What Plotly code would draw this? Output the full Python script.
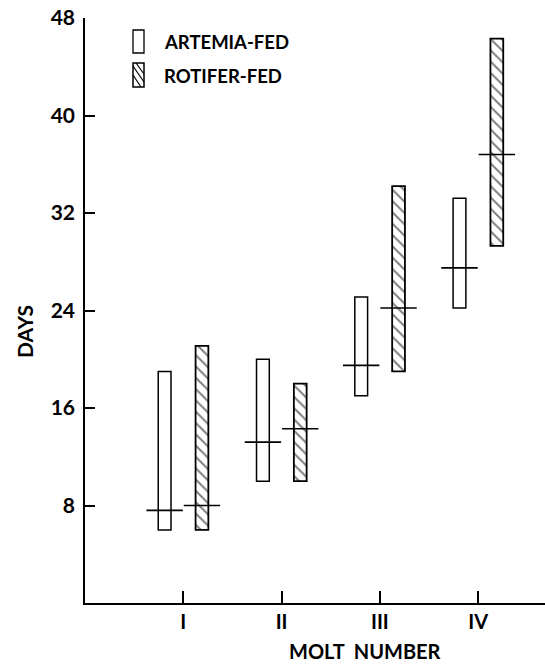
import plotly.graph_objects as go

molt = [1, 2, 3, 4]
molt_labels = ["I", "II", "III", "IV"]

art_low = [6.0, 10.0, 17.0, 24.2]
art_high = [19.0, 20.0, 25.1, 33.2]
art_med = [7.6, 13.2, 19.5, 27.5]

rot_low = [6.0, 10.0, 19.0, 29.3]
rot_high = [21.1, 18.0, 34.2, 46.3]
rot_med = [8.0, 14.3, 24.2, 36.8]

y_ticks = [8, 16, 24, 32, 40, 48]

FONT = "Lato"
shift = 0.19
bw = 0.13

x_art = [m - shift for m in molt]
x_rot = [m + shift for m in molt]

fig = go.Figure()
fig.add_trace(go.Bar(
    x=x_art, y=[h - l for h, l in zip(art_high, art_low)], base=art_low,
    width=bw, marker=dict(color="white", line=dict(color="black", width=1.5)),
    showlegend=False, hoverinfo="skip"))
fig.add_trace(go.Bar(
    x=x_rot, y=[h - l for h, l in zip(rot_high, rot_low)], base=rot_low,
    width=bw, marker=dict(color="white", line=dict(color="black", width=1.8),
                          pattern=dict(shape="\\", fgcolor="black", bgcolor="white",
                                       size=8, solidity=0.25)),
    showlegend=False, hoverinfo="skip"))
fig.add_trace(go.Scatter(
    x=x_art, y=art_med, mode="markers",
    marker=dict(symbol="line-ew", size=26, line=dict(color="black", width=1.6)),
    showlegend=False, hoverinfo="skip"))
fig.add_trace(go.Scatter(
    x=x_rot, y=rot_med, mode="markers",
    marker=dict(symbol="line-ew", size=26, line=dict(color="black", width=1.6)),
    showlegend=False, hoverinfo="skip"))

fig.update_layout(
    width=545, height=664,
    margin=dict(l=85, r=0, t=18, b=61),
    plot_bgcolor="white", paper_bgcolor="white",
    barmode="overlay",
    font=dict(family=FONT, size=21, color="black", weight=700),
    xaxis=dict(range=[0, 4.68], tickvals=molt, ticktext=molt_labels,
               ticks="inside", ticklen=12, tickwidth=1.5, tickcolor="black",
               showline=True, linecolor="black", linewidth=1.5,
               showgrid=False, zeroline=False, ticklabelstandoff=0,
               tickfont=dict(family=FONT, size=20, weight=700)),
    yaxis=dict(range=[0, 48], tickvals=y_ticks,
               ticks="inside", ticklen=10, tickwidth=1.5, tickcolor="black",
               showline=True, linecolor="black", linewidth=1.5,
               showgrid=False, zeroline=False, ticklabelstandoff=4,
               tickfont=dict(family=FONT, size=21, weight=700)),
)

def px_x(px):
    return (px - 85) / 460.0

def px_y(py):
    return (603 - py) / 585.0

# Axis titles
fig.add_annotation(text="MOLT  NUMBER", xref="paper", yref="paper",
                   x=px_x(365), y=px_y(651), showarrow=False,
                   font=dict(family=FONT, size=20, weight=700),
                   xanchor="center", yanchor="middle")
fig.add_annotation(text="DAYS", xref="paper", yref="paper",
                   x=px_x(24), y=px_y(331), showarrow=False, textangle=-90,
                   font=dict(family=FONT, size=21, weight=700),
                   xanchor="center", yanchor="middle")

# Legend
x0, x1 = px_x(133), px_x(144)
fig.add_shape(type="rect", xref="paper", yref="paper",
              x0=x0, x1=x1, y0=px_y(53), y1=px_y(30),
              line=dict(color="black", width=1.3), fillcolor="white")
fig.add_shape(type="rect", xref="paper", yref="paper",
              x0=x0, x1=x1, y0=px_y(87), y1=px_y(63),
              line=dict(color="black", width=1.5), fillcolor="white")
fig.add_shape(type="path", xref="paper", yref="paper",
              path=" ".join(
                  f"M {px_x(ax)} {px_y(ay)} L {px_x(bx)} {px_y(by)}"
                  for (ax, ay, bx, by) in [(133, 66, 144, 82), (133, 75, 141, 87), (136, 63, 144, 74)]),
              line=dict(color="black", width=1.2))
fig.add_annotation(text="ARTEMIA-FED", xref="paper", yref="paper",
                   x=px_x(162), y=px_y(42), showarrow=False,
                   font=dict(family=FONT, size=18.5, weight=700),
                   xanchor="left", yanchor="middle")
fig.add_annotation(text="ROTIFER-FED", xref="paper", yref="paper",
                   x=px_x(162), y=px_y(76), showarrow=False,
                   font=dict(family=FONT, size=18.5, weight=700),
                   xanchor="left", yanchor="middle")

fig.write_html("out.html")
